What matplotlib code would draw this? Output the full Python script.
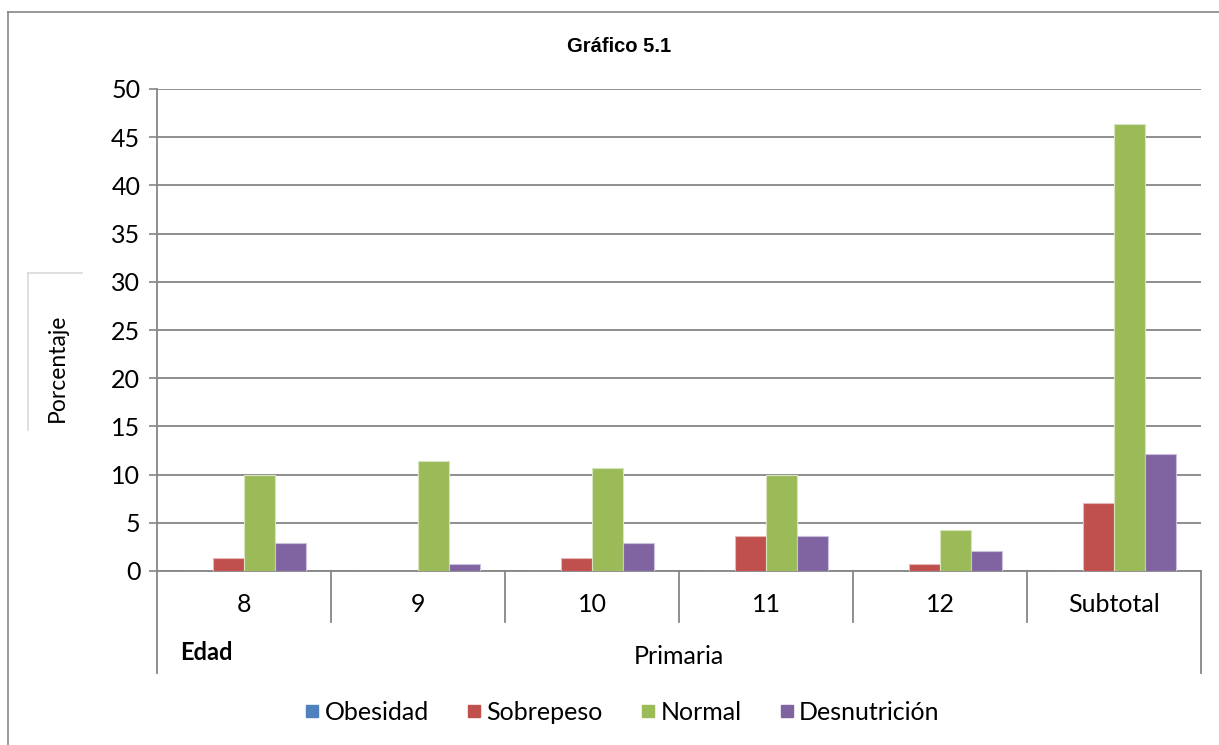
import matplotlib
matplotlib.use("Agg")
import matplotlib.pyplot as plt
from matplotlib.lines import Line2D
import matplotlib.transforms as mtransforms
import numpy as np

categories = ["8", "9", "10", "11", "12", "Subtotal"]
series_names = ["Obesidad", "Sobrepeso", "Normal", "Desnutrición"]
obesidad = [0, 0, 0, 0, 0, 0]
sobrepeso = [1.4, 0, 1.4, 3.6, 0.7, 7.1]
normal = [10.0, 11.4, 10.7, 10.0, 4.3, 46.4]
desnutricion = [2.9, 0.7, 2.9, 3.6, 2.1, 12.1]
yticks = [0, 5, 10, 15, 20, 25, 30, 35, 40, 45, 50]

colors = ["#4F81BD", "#C0504D", "#9BBB59", "#8064A2"]
edges = ["#B9CDE5", "#E6B9B8", "#D7E4BD", "#CCC1DA"]

W, H = 1219, 745
fig = plt.figure(figsize=(W / 100, H / 100), dpi=100)
FONT = "Lato"
GRAY = "#868686"
FS = 18

left, right, top, bottom = 157, 1201, 89, 571
ax = fig.add_axes([left / W, 1 - bottom / H, (right - left) / W, (bottom - top) / H])

x = np.arange(len(categories))
bw = 0.178
data = [obesidad, sobrepeso, normal, desnutricion]
for i, (vals, c, e) in enumerate(zip(data, colors, edges)):
    ax.bar(x + (i - 1.5) * bw, vals, width=bw, color=c, edgecolor=e,
           linewidth=0.8, zorder=3, label=series_names[i])

ax.set_xlim(-0.5, len(categories) - 0.5)
ax.set_ylim(0, 50)
ax.set_yticks(yticks)
ax.set_yticklabels([str(v) for v in yticks], fontsize=FS, fontfamily=FONT)
ax.tick_params(axis="y", direction="out", length=6, width=1.2, color=GRAY, pad=6)
ax.set_xticks([])
ax.yaxis.grid(True, color=GRAY, linewidth=1.3, zorder=0)
ax.set_axisbelow(True)
for s in ["top", "right"]:
    ax.spines[s].set_visible(False)
for s in ["left", "bottom"]:
    ax.spines[s].set_color(GRAY)
    ax.spines[s].set_linewidth(1.3)

# multi-level category axis
trans = mtransforms.blended_transform_factory(ax.transData, ax.transAxes)
ph = bottom - top
sep_y = -(622 - bottom) / ph
out_y = -(673 - bottom) / ph
for k in range(len(categories) + 1):
    xb = k - 0.5
    yb = out_y if k in (0, len(categories)) else sep_y
    ax.add_line(Line2D([xb, xb], [0, yb], transform=trans, color=GRAY,
                       linewidth=1.3, clip_on=False))
for xi, lab in zip(x, categories):
    ax.text(xi, -(605 - bottom) / ph, lab, transform=trans, ha="center",
            va="center", fontsize=FS, fontfamily=FONT)
ax.text(x.mean(), -(657 - bottom) / ph, "Primaria", transform=trans,
        ha="center", va="center", fontsize=FS, fontfamily=FONT)
fig.text(180 / W, 1 - 652 / H, "Edad", ha="left", va="center", fontsize=17,
         fontweight="bold", fontfamily=FONT)

# y-axis title with frame
fig.text(57 / W, 1 - 368 / H, "Porcentaje", rotation=90, ha="center",
         va="center", fontsize=16.5, fontfamily=FONT)
fig.add_artist(Line2D([28 / W, 82 / W], [1 - 273 / H, 1 - 273 / H],
                      transform=fig.transFigure, color="#D9D9D9", linewidth=1.2))
fig.add_artist(Line2D([28 / W, 28 / W], [1 - 273 / H, 1 - 430 / H],
                      transform=fig.transFigure, color="#D9D9D9", linewidth=1.2))

# title
fig.text(619 / W, 1 - 47 / H, "Gráfico 5.1", ha="center", va="center",
         fontsize=14.5, fontweight="bold", fontfamily="Liberation Sans")

# outer frame
fig.add_artist(Line2D([8 / W, 8 / W], [1 - 12 / H, 0], transform=fig.transFigure,
                      color=GRAY, linewidth=1.2))
fig.add_artist(Line2D([8 / W, 1], [1 - 12 / H, 1 - 12 / H], transform=fig.transFigure,
                      color=GRAY, linewidth=1.2))

# legend
handles = [Line2D([], [], marker="s", linestyle="none", markersize=9,
                  markerfacecolor=c, markeredgecolor=c) for c in colors]
fig.legend(handles, series_names, loc="center", bbox_to_anchor=(621 / W, 1 - 712 / H),
           ncol=4, frameon=False, prop={"family": FONT, "size": FS},
           handletextpad=0.1, columnspacing=1.4, handlelength=0.8)

fig.savefig("out.png", dpi=100)
